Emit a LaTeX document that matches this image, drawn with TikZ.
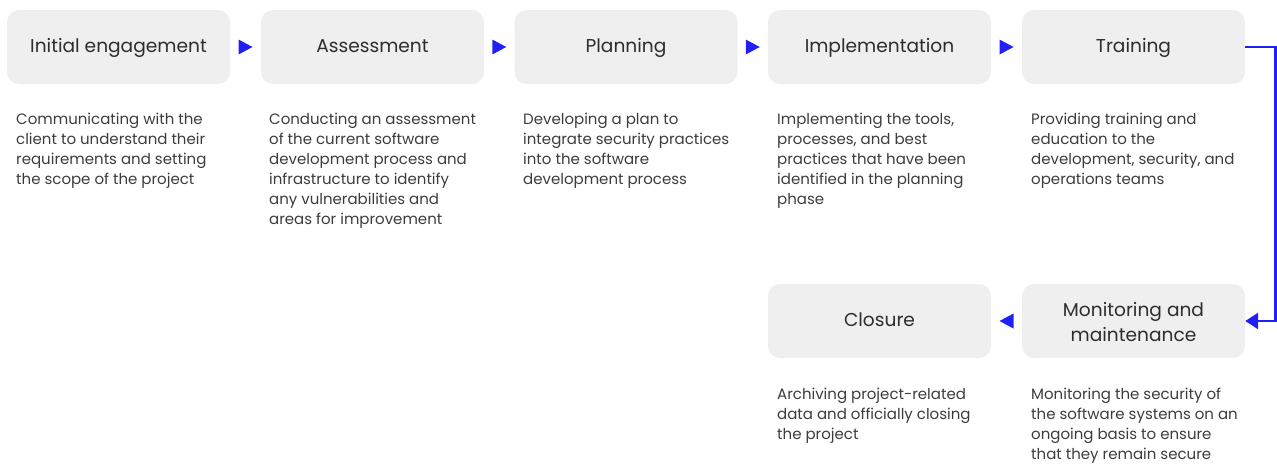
\documentclass[tikz,border=0pt]{standalone}
\usepackage{fontspec}
\setmainfont{Poppins}
\usetikzlibrary{arrows.meta,decorations.markings}
\definecolor{flowblue}{RGB}{32,32,245}
\definecolor{boxgray}{RGB}{239,239,239}
\definecolor{titlegray}{RGB}{45,45,45}
\definecolor{descgray}{RGB}{60,60,60}
\begin{document}
\begin{tikzpicture}[x=1pt,y=-1pt,
  stagebox/.style={fill=boxgray, rounded corners=12pt, minimum width=223pt,
    minimum height=74pt, inner sep=0pt, align=center, text=titlegray,
    font=\fontsize{18.6}{25}\selectfont, execute at begin node=\strut},
  desc/.style={anchor=north west, align=left, inner sep=0pt, text=descgray,
    font=\fontsize{15}{20}\selectfont},
  pointer/.style={postaction={decorate}, decoration={markings,
    mark=at position 0.5 with {\fill[flowblue] (-7,-7.5) -- (7,0) -- (-7,7.5) -- cycle;}}},
  loopline/.style={draw=flowblue, line width=2.6pt,
    -{Triangle[length=13pt,width=16pt]}}
]
\useasboundingbox (0,0) rectangle (1277,464);

% first row of stages
\node[stagebox] (s1) at (118.5,47) {Initial engagement};
\node[stagebox] (s2) at (372.5,47) {Assessment};
\node[stagebox] (s3) at (626,47) {Planning};
\node[stagebox] (s4) at (879.5,47) {Implementation};
\node[stagebox] (s5) at (1133.5,47) {Training};

% second row of stages
\node[stagebox] (s6) at (1133.5,321) {\rule{0pt}{23.5pt}Monitoring and\\maintenance\strut};
\node[stagebox] (s7) at (879.5,321) {Closure};

% flow pointers between neighbouring stages
\path[pointer] (s1.east) -- (s2.west);
\path[pointer] (s2.east) -- (s3.west);
\path[pointer] (s3.east) -- (s4.west);
\path[pointer] (s4.east) -- (s5.west);
\path[pointer] (s6.west) -- (s7.east);

% wrap-around connector to the second row
\draw[loopline] (s5.east) -- ++(30,0) |- (s6.east);

% descriptions
\node[desc] (d1) at (16,113) {Communicating with the\\client to understand  their\\requirements and setting\\the scope of the project};
\node[desc] (d2) at (269,113) {Conducting an assessment\\of the current software\\development process and\\infrastructure to identify\\any vulnerabilities and\\areas for improvement};
\node[desc] (d3) at (523,113) {Developing a plan to\\integrate security practices\\into the software\\development process};
\node[desc] (d4) at (777,113) {Implementing the tools,\\processes, and best\\practices that have been\\identified in the planning\\phase};
\node[desc] (d5) at (1031,113) {Providing training and\\education to the\\development, security, and\\operations teams};
\node[desc] (d7) at (777,388) {Archiving project-related\\data and officially closing\\the project};
\node[desc] (d6) at (1031,388) {Monitoring the security of\\the software systems on an\\ongoing basis to ensure\\that they remain secure};
\end{tikzpicture}
\end{document}
